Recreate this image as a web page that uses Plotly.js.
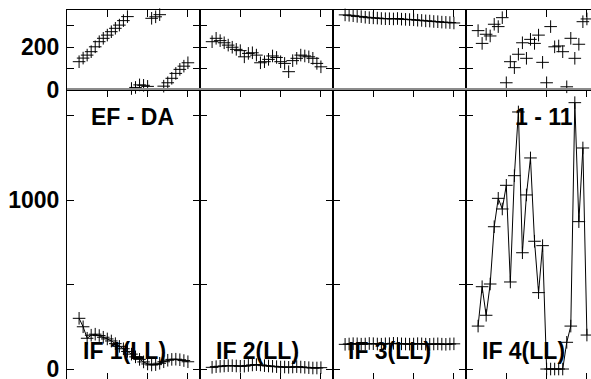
<!DOCTYPE html>
<html>
<head>
<meta charset="utf-8">
<script src="https://cdn.plot.ly/plotly-3.0.1.min.js"></script>
<style>
html,body{margin:0;padding:0;overflow:hidden;background:#fff;}
#chart{width:599px;height:381px;}
</style>
</head>
<body>
<div id="chart"></div>
<script>
// ---- data ----
var channels = [3,4,5,6,7,8,9,10,11,12,13,14,15,16,17,18,19,20,21,22,23,24,25,26,27,28,29,30];
var ifLabels = ["IF 1(LL)", "IF 2(LL)", "IF 3(LL)", "IF 4(LL)"];
var phaseIF1 = [131,148,162,178,201,225,241,256,272,288,303,324,343,5,10,22,20,15,335,342,352,16,32,53,76,95,110,126];
var phaseIF2 = [225,241,230,220,209,199,189,183,154,170,173,162,126,131,142,158,151,131,123,84,136,147,162,158,154,147,123,107];
var phaseIF3 = [351,349,347,344,343,340,338,337,336,334,333,333,332,334,331,330,329,328,326,325,323,322,320,319,317,316,315,313];
var phaseIF4 = [277,217,260,252,307,296,338,32,131,103,166,220,147,236,217,256,128,32,296,201,205,178,13,241,147,213,319,332];
var ampIF1 = [300,250,182,200,206,198,188,178,166,150,134,120,104,88,72,57,42,30,24,26,34,43,52,57,58,55,50,43];
var ampIF2 = [10,14,16,18,20,20,18,16,17,21,24,26,24,20,18,16,14,12,12,10,12,14,12,10,8,6,6,8];
var ampIF3 = [146,148,150,149,147,148,151,150,148,147,149,150,152,151,149,148,147,148,150,149,147,146,148,149,147,146,148,149];
var ampIF4 = [254,487,318,503,842,1010,947,1087,515,1144,1521,688,1030,1249,756,452,730,0,0,0,0,0,158,254,1576,872,1308,201];
var phaseTicks = [0,100,200,300];
var phaseTickText = ["0","","200",""];
var ampTicks = [0,500,1000,1500];
var ampTickText = ["0","","1000",""];
var xTicks = [10,20,30];
var baselineLabel = "EF - DA";
var sourceLabel = "1 - 11";

var phases = [phaseIF1, phaseIF2, phaseIF3, phaseIF4];
var amps = [ampIF1, ampIF2, ampIF3, ampIF4];

// ---- layout geometry (pixels in a 599x381 figure) ----
var W = 599, H = 381;
var panelX = [67, 200, 333, 466, 599];
var topY = [10, 90];     // from top
var botY = [90, 380];
function fx(px){ return px / W; }
function fy(py){ return (H - py) / H; }

var tickFont = {family: "Liberation Sans, Arial, sans-serif", size: 23, color: "#000", weight: "bold"};
var markerStyle = {symbol: "cross-thin-open", size: 9, color: "#000", line: {color: "#000", width: 1}};

var traces = [];
var layout = {
  width: W, height: H,
  margin: {l: 0, r: 0, t: 0, b: 0},
  paper_bgcolor: "#fff", plot_bgcolor: "#fff",
  showlegend: false,
  font: tickFont,
  annotations: [],
  shapes: []
};

for (var i = 0; i < 4; i++) {
  var tn = i + 1, bn = i + 5;
  var tx = "x" + tn, ty = "y" + tn, bx = "x" + bn, by = "y" + bn;
  traces.push({x: channels, y: phases[i], xaxis: tx, yaxis: ty, type: "scatter", mode: "markers",
               marker: markerStyle, cliponaxis: false, hoverinfo: "skip"});
  traces.push({x: channels, y: amps[i], xaxis: bx, yaxis: by, type: "scatter", mode: "lines+markers",
               marker: markerStyle, line: {color: "#000", width: 1}, cliponaxis: false, hoverinfo: "skip"});
  var dom = [fx(panelX[i]), fx(panelX[i+1])];
  var xcommon = {range: [0, 33], tickvals: xTicks, showticklabels: false, ticks: "inside", ticklen: 7,
                 tickcolor: "#000", showline: true, linecolor: "#000", linewidth: 1, showgrid: false, zeroline: false};
  layout["xaxis" + tn] = Object.assign({}, xcommon, {domain: dom, anchor: ty, side: "top", mirror: true});
  layout["xaxis" + bn] = Object.assign({}, xcommon, {domain: dom, anchor: by, side: "bottom", mirror: "ticks"});
  var ycommon = {ticks: "inside", ticklen: 7, tickcolor: "#000", showline: true, linecolor: "#000", linewidth: 1,
                 mirror: "ticks", showgrid: false, zeroline: false, showticklabels: i === 0,
                 tickfont: tickFont, ticklabelstandoff: 2, ticklabeloverflow: "allow"};
  layout["yaxis" + tn] = Object.assign({}, ycommon, {domain: [fy(topY[1]), fy(topY[0])], anchor: tx,
                 range: [-2, 374], tickvals: phaseTicks, ticktext: phaseTickText});
  layout["yaxis" + bn] = Object.assign({}, ycommon, {domain: [fy(botY[1]), fy(botY[0])], anchor: bx,
                 range: [-65, 1651], tickvals: ampTicks, ticktext: ampTickText});
}

// grey zero line of the phase panels
layout.shapes.push({type: "line", xref: "paper", yref: "y1", x0: fx(67), x1: 1, y0: 0, y1: 0,
                    line: {color: "#8c8c8c", width: 3}, layer: "above"});

var annFont = {family: "Liberation Sans, Arial, sans-serif", size: 23, color: "#000", weight: "bold"};
var ifCenters = [124, 257, 389, 523];
for (var k = 0; k < 4; k++) {
  layout.annotations.push({text: ifLabels[k], xref: "paper", yref: "paper", x: fx(ifCenters[k]), y: fy(351),
                           xanchor: "center", yanchor: "middle", showarrow: false, font: annFont});
}
layout.annotations.push({text: baselineLabel, xref: "paper", yref: "paper", x: fx(132), y: fy(117),
                         xanchor: "center", yanchor: "middle", showarrow: false, font: annFont});
layout.annotations.push({text: sourceLabel, xref: "paper", yref: "paper", x: fx(544), y: fy(117),
                         xanchor: "center", yanchor: "middle", showarrow: false, font: annFont});

Plotly.newPlot("chart", traces, layout, {staticPlot: true, displayModeBar: false});
</script>
</body>
</html>
